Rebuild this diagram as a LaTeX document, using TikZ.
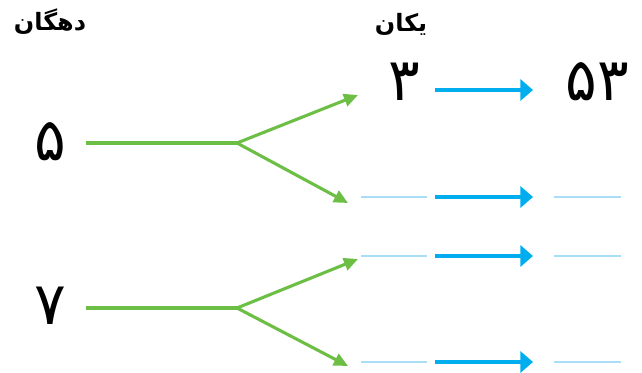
\documentclass[tikz,border=0pt]{standalone}
\usepackage{fontspec}
\usetikzlibrary{arrows.meta}
\TeXXeTstate=1
\newfontfamily\arabicfont[Script=Arabic]{DejaVu Sans}
\definecolor{branchgreen}{RGB}{108,190,69}
\definecolor{carryblue}{RGB}{0,174,239}
\definecolor{blankblue}{RGB}{170,222,246}

\begin{document}
\begin{tikzpicture}[x=0.025cm, y=-0.025cm,
  digit/.style={font=\arabicfont\fontsize{42}{44}\selectfont, inner sep=0pt},
  heading/.style={font=\arabicfont\bfseries\fontsize{17}{20}\selectfont, inner sep=0pt},
  stem/.style={draw=branchgreen, line width=2.2pt},
  branch/.style={draw=branchgreen, line width=2.2pt, -{Triangle[length=10pt,width=9pt]}},
  carry/.style={draw=carryblue, line width=2.4pt, -{Triangle[length=9pt,width=15pt]}},
  blank/.style={draw=blankblue, line width=1.5pt},
]
  \useasboundingbox (0,0) rectangle (642,373);
  % headings
  \node[heading] (tens) at (50,22) {\beginR دهگان\endR};
  \node[heading] (ones) at (401,24) {\beginR یکان\endR};
  % digits
  \node[digit] (d5) at (50,142) {۵};
  \node[digit] (d7) at (50,306) {۷};
  \node[digit] (u3) at (404,82) {۳};
  \node[digit] (r53) at (597,82) {۵۳};
  % tens stems and branches
  \coordinate (a5) at (86,143);  \coordinate (s5) at (237,143);
  \coordinate (a7) at (86,308);  \coordinate (s7) at (237,308);
  \coordinate (t1) at (358,95);  \coordinate (t2) at (348,203);
  \coordinate (t3) at (358,259); \coordinate (t4) at (348,366);
  \draw[stem] (a5) -- (s5);
  \draw[stem] (a7) -- (s7);
  \draw[branch] (s5) -- (t1);
  \draw[branch] (s5) -- (t2);
  \draw[branch] (s7) -- (t3);
  \draw[branch] (s7) -- (t4);
  % first row
  \coordinate (c1) at (435,90); \coordinate (e1) at (533,90);
  \draw[carry] (c1) -- (e1);
  % rows to fill in
  \foreach \y/\n in {197/2, 256/3, 362/4} {
    \coordinate (l\n) at (361,\y); \coordinate (m\n) at (427,\y);
    \coordinate (c\n) at (435,\y); \coordinate (e\n) at (533,\y);
    \coordinate (r\n) at (554,\y); \coordinate (q\n) at (621,\y);
    \draw[blank] (l\n) -- (m\n);
    \draw[carry] (c\n) -- (e\n);
    \draw[blank] (r\n) -- (q\n);
  }
\end{tikzpicture}
\end{document}
